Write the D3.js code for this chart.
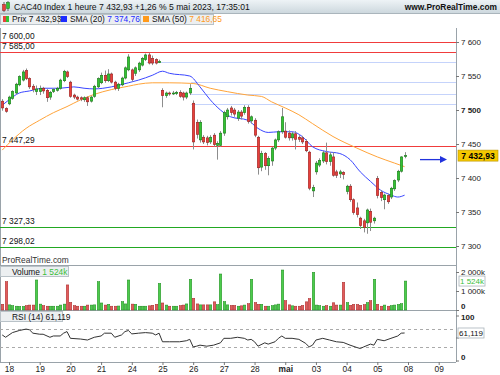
<!DOCTYPE html>
<html>
<head>
<meta charset="utf-8">
<script src="https://cdn.jsdelivr.net/npm/d3@7"></script>
<style>
  body { margin: 0; background: #fff; }
  svg text { font-family: "Liberation Sans", Arial, sans-serif; }
</style>
</head>
<body>
<script>
// ---- data (hourly bars, 17 avr 16h -> 5 mai 17h) ----
const dayLabels = ["18","19","20","21","24","25","26","27","28","mai","03","04","05","08","09"];
const barsBeforeFirstDay = 2;
const barsPerDay = 9;

const opens = [7513,7502,
  7509,7517,7525,7537,7544,7558,7546,7535,7527,
  7527,7532,7529,7519,7527,7529,7532,7543,7556,
  7541,7522,7519,7518,7515,7518,7513,7520,7534,
  7540,7551,7543,7553,7541,7532,7537,7547,7559,
  7559,7554,7559,7566,7574,7581,7576,7574,7570,
  7529,7521,7525,7524,7524,7526,7525,7519,7525,
  7510,7482,7456,7460,7459,7453,7463,7448,7448,
  7466,7490,7503,7500,7488,7497,7496,7504,7484,
  7485,7460,7416,7436,7418,7425,7444,7456,7468,
  7469,7466,7459,7465,7460,7459,7454,7438,7381,
  7409,7419,7425,7437,7424,7431,7409,7406,7408,
  7380,7388,7368,7356,7341,7337,7334,7351,7337,
  7399,7379,7368,7374,7372,7384,7397,7410,7432];
const highs = [7516,7504,
  7521,7529,7540,7551,7559,7561,7548,7538,7536,
  7536,7534,7531,7528,7532,7534,7546,7559,7558,
  7543,7524,7521,7520,7520,7520,7521,7537,7548,
  7555,7558,7560,7555,7543,7540,7549,7564,7582,
  7561,7564,7571,7578,7583,7584,7580,7576,7574,
  7532,7527,7527,7528,7528,7529,7527,7527,7538,
  7514,7486,7485,7463,7462,7463,7466,7454,7469,
  7499,7503,7506,7503,7500,7500,7507,7507,7492,
  7488,7462,7440,7438,7432,7446,7458,7470,7503,
  7482,7470,7468,7469,7463,7462,7457,7440,7390,
  7425,7429,7440,7452,7438,7438,7412,7412,7410,
  7390,7391,7370,7364,7343,7340,7355,7355,7343,
  7403,7382,7377,7377,7387,7398,7412,7432,7438];
const lows = [7499,7496,
  7507,7515,7523,7535,7542,7544,7531,7526,7522,
  7522,7524,7512,7515,7525,7527,7530,7541,7547,
  7518,7516,7514,7513,7512,7506,7511,7518,7532,
  7538,7540,7541,7539,7529,7528,7535,7545,7557,
  7542,7550,7556,7564,7572,7567,7566,7567,7569,
  7504,7518,7521,7522,7522,7518,7514,7516,7522,
  7442,7458,7452,7450,7448,7450,7446,7427,7446,
  7462,7486,7492,7490,7484,7486,7493,7480,7480,
  7460,7405,7410,7412,7404,7418,7441,7453,7465,
  7458,7455,7455,7442,7453,7450,7438,7382,7372,
  7405,7416,7422,7420,7418,7402,7400,7400,7398,
  7376,7365,7346,7342,7325,7320,7318,7322,7333,
  7370,7366,7354,7362,7369,7381,7394,7408,7429];
const closes = [7503,7498,
  7519,7527,7538,7549,7556,7546,7534,7530,7531,
  7532,7528,7518,7526,7530,7532,7544,7557,7549,
  7520,7519,7516,7516,7518,7512,7519,7535,7546,
  7551,7543,7553,7541,7532,7538,7547,7562,7578,
  7545,7562,7569,7576,7581,7569,7569,7569,7571,
  7521,7525,7524,7525,7526,7520,7519,7525,7532,
  7453,7464,7482,7453,7452,7460,7449,7451,7466,
  7496,7500,7496,7494,7497,7491,7504,7483,7490,
  7463,7415,7436,7418,7429,7444,7456,7468,7490,
  7460,7459,7465,7457,7457,7453,7440,7385,7386,
  7422,7426,7437,7424,7434,7404,7404,7409,7405,
  7388,7368,7349,7346,7330,7327,7353,7335,7341,
  7374,7371,7375,7365,7385,7396,7410,7431,7432.93];
// volume in thousands
const volumes = [300,1490,
  270,230,200,190,190,230,260,260,1580,
  310,230,200,200,200,200,260,310,1320,
  400,230,200,200,200,260,260,270,1490,
  370,260,300,200,200,210,440,320,1580,
  310,300,200,200,200,220,250,300,1400,
  370,260,200,200,200,230,260,320,1615,
  615,320,270,270,270,270,430,280,1895,
  440,270,240,240,200,220,260,330,1615,
  390,300,300,200,200,230,270,310,2105,
  490,270,220,200,200,240,430,600,1983,
  260,230,200,230,200,380,260,260,1456,
  390,250,300,290,250,280,390,490,1615,
  300,200,260,200,230,260,290,330,1524];

// moving averages, sampled at bar index
const sma20Idx = [0,2,5,8,12,17,21,24,27,32,37,40,44,47,49,55,58,61,64,67,72,75,78,81,85,88,91,95,99,102,105,108,111,114,116,118];
const sma20Val = [7507,7515,7525,7528,7532,7532,7534,7532,7531,7534,7540,7544,7551,7557,7554,7550,7534,7515,7500,7490,7485,7473,7467,7468,7468,7461,7446,7439,7436,7427,7409,7395,7382,7375,7372,7374.76];
const sma50Idx = [0,3,7,11,15,19,23,27,32,37,40,44,49,56,61,66,72,76,79,83,87,91,97,104,110,115,118];
const sma50Val = [7441,7456,7473,7485,7496,7505,7515,7523,7530,7535,7538,7540,7540,7539,7532,7527,7522,7520,7512,7503,7493,7480,7461,7444,7431,7422,7416.65];

const rsiIdx = [0,1,3,5,7,8,9,11,12,14,15,17,18,19,20,23,25,27,29,30,32,33,35,36,37,38,40,42,44,45,46,47,49,52,54,55,56,57,58,60,62,64,65,67,69,71,72,73,74,75,77,78,80,81,82,83,85,87,89,90,91,92,94,96,98,100,102,104,105,106,108,109,110,112,114,116,117,118];
const rsiVal = [56.8,51.6,62,66.6,69.8,68.2,60.7,58.4,58.4,51.6,54.5,54.5,60.7,64.3,49.3,47.7,45.5,51.6,54.5,60.7,60.7,51.6,56.8,64.3,66.6,59.1,60.7,62,60.7,56.8,60.7,41.6,41.6,41.6,43.9,47,30.2,31.8,34.1,31.8,34.1,39.3,49.3,49.3,51.6,49.3,45.5,47,41.6,31.8,39.3,36.4,41.6,49.3,54.5,49.3,49.3,47,38,30.2,34.1,45.5,49.3,45.5,41.6,40.2,34.1,28.9,26.6,30.2,36.4,34.1,47,43.9,49.3,54.5,60.7,61.119];

const redLevels = [7600, 7585, 7447.29];
const greenLevels = [7327.33, 7298.02];
const fiboLevels = [7570.6, 7541, 7523.5, 7509];
const fiboStart = [43, 56, 56, 56];

const priceTicks = [7300,7350,7400,7450,7500,7550,7600];
const volTicks = [0,1000,2000];
const rsiTicks = [0,100];

const lastPrice = 7432.93, lastSma20 = 7374.76, lastSma50 = 7416.65, lastVol = 1524, lastRsi = 61.119;

// ---- setup ----
const W = 500, H = 375, axisX = 456;
const fr = d3.formatLocale({decimal: ",", thousands: "\u00a0", grouping: [3], currency: ["", ""]});
const f0 = fr.format(",.0f"), f2 = fr.format(",.2f"), f3 = fr.format(",.3f");
const GREEN = "#33c233", GREEN_D = "#127012", RED = "#e8403b", RED_D = "#8c1b1b";

const svg = d3.select("body").append("svg").attr("width", W).attr("height", H);

const x = d3.scaleLinear().domain([0, 118]).range([2.2, 404.6]);
const yP = d3.scaleLinear().domain([7300, 7600]).range([246, 42]);
const yV = d3.scaleLinear().domain([0, 2000]).range([310, 272]);
const yR = d3.scaleLinear().domain([0, 100]).range([360.5, 315.5]);

const bars = closes.map((c, i) => ({i: i, o: opens[i], h: highs[i], l: lows[i], c: c, v: volumes[i], up: c >= opens[i]}));

// ---- header ----
const defs = svg.append("defs");
const grad = defs.append("linearGradient").attr("id", "hdr").attr("x1", 0).attr("y1", 0).attr("x2", 0).attr("y2", 1);
grad.append("stop").attr("offset", "0%").attr("stop-color", "#eef3f6");
grad.append("stop").attr("offset", "100%").attr("stop-color", "#cdd8de");
svg.append("rect").attr("x", 0).attr("y", 0).attr("width", W).attr("height", 13).attr("fill", "url(#hdr)");
svg.append("line").attr("x1", 0).attr("x2", W).attr("y1", 13.5).attr("y2", 13.5).attr("stroke", "#aab5bc");
// small candle icon
svg.append("line").attr("x1", 4).attr("x2", 4).attr("y1", 2).attr("y2", 12).attr("stroke", "#666");
svg.append("rect").attr("x", 2.5).attr("y", 4.5).attr("width", 3).attr("height", 6).attr("fill", RED).attr("stroke", RED_D).attr("stroke-width", 0.5);
svg.append("line").attr("x1", 8).attr("x2", 8).attr("y1", 1).attr("y2", 11).attr("stroke", "#666");
svg.append("rect").attr("x", 6.5).attr("y", 2.5).attr("width", 3).attr("height", 6).attr("fill", GREEN).attr("stroke", GREEN_D).attr("stroke-width", 0.5);
svg.append("text").attr("x", 14).attr("y", 9.8).attr("font-size", 8.6).attr("fill", "#111")
  .text("CAC40 Index 1 heure " + f2(lastPrice) + " +1,26 % 5 mai 2023, 17:35:01");
svg.append("text").attr("x", 497).attr("y", 9.8).attr("font-size", 8.4).attr("font-weight", "bold").attr("text-anchor", "end").attr("fill", "#111")
  .text("www.ProRealTime.com");

// legend row
function legendBox(x0, w, y0, h) {
  svg.append("rect").attr("x", x0 + 0.5).attr("y", y0 + 0.5).attr("width", w).attr("height", h)
    .attr("fill", "#eceff1").attr("stroke", "#b9c2c8");
}
legendBox(0, 58, 14, 10);
legendBox(58, 82, 14, 10);
legendBox(140, 73, 14, 10);
svg.append("rect").attr("x", 3).attr("y", 16).attr("width", 3).attr("height", 6).attr("fill", RED);
svg.append("rect").attr("x", 6).attr("y", 16).attr("width", 3).attr("height", 6).attr("fill", GREEN);
svg.append("rect").attr("x", 61).attr("y", 16).attr("width", 6).attr("height", 6).attr("fill", "#1c2cff");
svg.append("rect").attr("x", 143).attr("y", 16).attr("width", 6).attr("height", 6).attr("fill", "#ff9a1a");
let t = svg.append("text").attr("x", 12).attr("y", 22).attr("font-size", 8.4).attr("fill", "#111");
t.append("tspan").text("Prix " + f2(lastPrice));
t = svg.append("text").attr("x", 70).attr("y", 22).attr("font-size", 8.4).attr("fill", "#111");
t.append("tspan").text("SMA (20) ");
t.append("tspan").attr("fill", "#1c2cff").text(f2(lastSma20));
t = svg.append("text").attr("x", 152).attr("y", 22).attr("font-size", 8.4).attr("fill", "#111");
t.append("tspan").text("SMA (50) ");
t.append("tspan").attr("fill", "#ff9a1a").text(f2(lastSma50));

// ---- panel frame ----
const frame = svg.append("g").attr("stroke", "#9aa3aa").attr("shape-rendering", "crispEdges");
frame.append("line").attr("x1", 0.5).attr("x2", 0.5).attr("y1", 28).attr("y2", 362);
frame.append("line").attr("x1", axisX + 0.5).attr("x2", axisX + 0.5).attr("y1", 28).attr("y2", 362);
frame.append("line").attr("x1", 0).attr("x2", axisX).attr("y1", 265.5).attr("y2", 265.5);
frame.append("line").attr("x1", 0).attr("x2", axisX).attr("y1", 310.5).attr("y2", 310.5);
frame.append("line").attr("x1", 0).attr("x2", axisX).attr("y1", 362.5).attr("y2", 362.5);

// ---- price panel ----
const price = svg.append("g");
price.selectAll(".fib").data(fiboLevels).enter().append("line")
  .attr("x1", (d, k) => x(fiboStart[k]) - 2).attr("x2", axisX)
  .attr("y1", d => Math.round(yP(d)) + 0.5).attr("y2", d => Math.round(yP(d)) + 0.5)
  .attr("stroke", "#c5d3fb").attr("stroke-width", 1);
price.selectAll(".lvr").data(redLevels).enter().append("line")
  .attr("x1", 0).attr("x2", axisX)
  .attr("y1", d => Math.round(yP(d)) + 0.5).attr("y2", d => Math.round(yP(d)) + 0.5)
  .attr("stroke", "#f03c3c").attr("stroke-width", 1.2);
price.selectAll(".lvg").data(greenLevels).enter().append("line")
  .attr("x1", 0).attr("x2", axisX)
  .attr("y1", d => Math.round(yP(d)) + 0.5).attr("y2", d => Math.round(yP(d)) + 0.5)
  .attr("stroke", "#22a822").attr("stroke-width", 1.2);
price.selectAll(".lvlab").data(redLevels.concat(greenLevels)).enter().append("text")
  .attr("x", 2).attr("y", d => yP(d) - 3).attr("font-size", 8.4).attr("fill", "#111")
  .text(d => f2(d));

// moving averages
const maLine = d3.line().x(d => x(d[0])).y(d => yP(d[1])).curve(d3.curveMonotoneX);
price.append("path").datum(sma50Idx.map((d, k) => [d, sma50Val[k]]))
  .attr("d", maLine).attr("fill", "none").attr("stroke", "#ffa43a").attr("stroke-width", 1);
price.append("path").datum(sma20Idx.map((d, k) => [d, sma20Val[k]]))
  .attr("d", maLine).attr("fill", "none").attr("stroke", "#3a46ff").attr("stroke-width", 1);

// candles
const cg = price.selectAll(".candle").data(bars).enter().append("g");
cg.append("line")
  .attr("x1", d => Math.round(x(d.i)) + 0.5).attr("x2", d => Math.round(x(d.i)) + 0.5)
  .attr("y1", d => yP(d.h)).attr("y2", d => yP(d.l))
  .attr("stroke", "#8d8d8d").attr("stroke-width", 1);
cg.append("rect")
  .attr("x", d => Math.round(x(d.i)) - 0.75).attr("width", 2.5)
  .attr("y", d => yP(Math.max(d.o, d.c)))
  .attr("height", d => Math.max(1, Math.abs(yP(d.o) - yP(d.c))))
  .attr("fill", d => d.up ? GREEN : RED)
  .attr("stroke", d => d.up ? GREEN_D : RED_D).attr("stroke-width", 0.5);

// last price arrow and box
const ay = yP(lastPrice) + 4;
price.append("line").attr("x1", 420).attr("x2", 441).attr("y1", ay).attr("y2", ay).attr("stroke", "#2233dd").attr("stroke-width", 1.3);
price.append("path").attr("d", `M440,${ay - 3.5}L447,${ay}L440,${ay + 3.5}Z`).attr("fill", "#2233dd");

price.append("text").attr("x", 2).attr("y", 263).attr("font-size", 8.4).attr("fill", "#333").text("ProRealTime.com");

// price axis
const pAxis = svg.append("g").attr("transform", `translate(${axisX},0)`)
  .call(d3.axisRight(yP).tickValues(priceTicks).tickSize(3).tickPadding(2).tickFormat(f0));
pAxis.select(".domain").remove();
pAxis.selectAll("line").attr("stroke", "#777");
pAxis.selectAll("text").attr("font-size", 8).attr("fill", "#222")
  .attr("font-weight", d => d === 7500 ? "bold" : "normal");

const pb = svg.append("g").attr("transform", `translate(458,${yP(lastPrice)})`);
pb.append("rect").attr("x", 0).attr("y", -5.5).attr("width", 40).attr("height", 11)
  .attr("fill", "#f5c800").attr("stroke", "#b89400").attr("stroke-width", 0.6);
pb.append("text").attr("x", 20).attr("y", 3.2).attr("text-anchor", "middle").attr("font-size", 8.6)
  .attr("font-weight", "bold").attr("fill", "#000").text(f2(lastPrice));

// ---- volume panel ----
const vol = svg.append("g");
vol.selectAll("rect").data(bars).enter().append("rect")
  .attr("x", d => Math.round(x(d.i)) - 0.75).attr("width", 2.5)
  .attr("y", d => yV(d.v)).attr("height", d => yV(0) - yV(d.v))
  .attr("fill", d => d.up ? "#4ccc4c" : "#e25c5c")
  .attr("stroke", d => d.up ? "#1f8a1f" : "#a52828").attr("stroke-width", 0.5);
legendBox(0, 68, 266, 10);
vol.append("rect").attr("x", 3).attr("y", 268).attr("width", 3).attr("height", 6).attr("fill", RED);
vol.append("rect").attr("x", 6).attr("y", 268).attr("width", 3).attr("height", 6).attr("fill", GREEN);
t = svg.append("text").attr("x", 12).attr("y", 274.5).attr("font-size", 8.4).attr("fill", "#111");
t.append("tspan").text("Volume ");
t.append("tspan").attr("fill", "#3cbf3c").text(f0(lastVol) + "k");

const vAxis = svg.append("g").attr("transform", `translate(${axisX},0)`)
  .call(d3.axisRight(yV).tickValues(volTicks).tickSize(3).tickPadding(2).tickFormat(d => d === 0 ? "0" : f0(d) + "k"));
vAxis.select(".domain").remove();
vAxis.selectAll("line").attr("stroke", "#777");
vAxis.selectAll("text").attr("font-size", 8).attr("fill", "#222")
  .attr("font-weight", d => d === 0 ? "bold" : "normal")
  .attr("dy", d => d === 0 ? "-0.2em" : "0.32em");
const vb = svg.append("g").attr("transform", `translate(459,${yV(lastVol)})`);
vb.append("rect").attr("x", 0).attr("y", -5).attr("width", 26).attr("height", 10)
  .attr("fill", "#fff").attr("stroke", "#a9b3ba").attr("stroke-width", 0.8);
vb.append("text").attr("x", 13).attr("y", 3).attr("text-anchor", "middle").attr("font-size", 8)
  .attr("fill", "#3cbf3c").text(f0(lastVol) + "k");

// ---- RSI panel ----
const rsi = svg.append("g");
rsi.selectAll(".rl").data([70, 30]).enter().append("line")
  .attr("x1", 0).attr("x2", axisX)
  .attr("y1", d => Math.round(yR(d)) + 0.5).attr("y2", d => Math.round(yR(d)) + 0.5)
  .attr("stroke", "#aaa").attr("stroke-dasharray", "3,3");
rsi.append("path").datum(rsiIdx.map((d, k) => [d, rsiVal[k]]))
  .attr("d", d3.line().x(d => x(d[0])).y(d => yR(d[1])))
  .attr("fill", "none").attr("stroke", "#333").attr("stroke-width", 1);
legendBox(0, 62, 311, 10);
rsi.append("rect").attr("x", 3).attr("y", 313).attr("width", 6).attr("height", 6).attr("fill", "#000");
svg.append("text").attr("x", 12).attr("y", 319.5).attr("font-size", 8.4).attr("fill", "#111")
  .text("RSI (14) " + f3(lastRsi));

const rAxis = svg.append("g").attr("transform", `translate(${axisX},0)`)
  .call(d3.axisRight(yR).tickValues(rsiTicks).tickSize(3).tickPadding(2));
rAxis.select(".domain").remove();
rAxis.selectAll("line").attr("stroke", "#777");
rAxis.selectAll("text").attr("font-size", 8).attr("fill", "#222").attr("font-weight", "bold")
  .attr("dy", d => d === 0 ? "-0.1em" : "0.5em");
// the 50 tick sits behind the value box
rAxis.append("line").attr("x1", 0).attr("x2", 3).attr("y1", yR(50)).attr("y2", yR(50)).attr("stroke", "#777");
const rb = svg.append("g").attr("transform", `translate(458,${yR(lastRsi)})`);
rb.append("rect").attr("x", 0).attr("y", -5).attr("width", 26).attr("height", 10)
  .attr("fill", "#fff").attr("stroke", "#a9b3ba").attr("stroke-width", 0.8);
rb.append("text").attr("x", 13).attr("y", 3).attr("text-anchor", "middle").attr("font-size", 8)
  .attr("fill", "#111").text(f3(lastRsi));

// ---- time axis ----
const dayStart = dayLabels.map((d, k) => barsBeforeFirstDay + k * barsPerDay);
const xAxis = svg.append("g").attr("transform", "translate(0,362)")
  .call(d3.axisBottom(x).tickValues(dayStart).tickSize(3).tickPadding(1).tickFormat((d, k) => dayLabels[k]));
xAxis.select(".domain").remove();
xAxis.selectAll("line").attr("stroke", "#777");
xAxis.selectAll("text").attr("font-size", 8.4).attr("fill", "#222")
  .attr("font-weight", (d, k) => dayLabels[k] === "mai" ? "bold" : "normal");
</script>
</body>
</html>
